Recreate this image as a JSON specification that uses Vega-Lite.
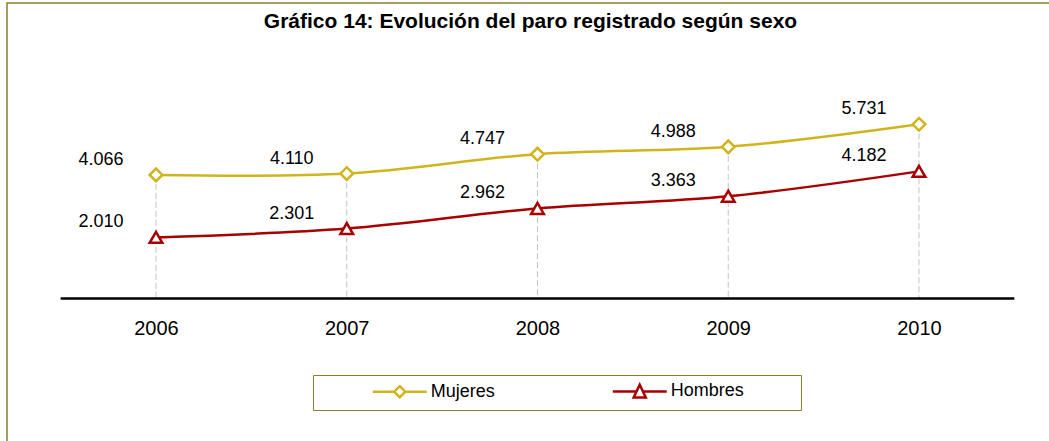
{
  "$schema": "https://vega.github.io/schema/vega-lite/v6.json",
  "width": 1047,
  "height": 443,
  "autosize": {"type": "none"},
  "padding": {"left": 7, "top": 3, "right": 0, "bottom": 0},
  "background": "white",
  "title": {
    "text": "Gráfico 14: Evolución del paro registrado según sexo",
    "font": "Liberation Sans",
    "fontSize": 21,
    "fontWeight": "bold",
    "color": "#000000",
    "anchor": "middle",
    "offset": -18,
    "dy": 22,
    "baseline": "middle"
  },
  "config": {
    "view": {"stroke": "#8B7D2B", "strokeWidth": 1.5},
    "locale": {"number": {"decimal": ",", "thousands": ".", "grouping": [3], "currency": ["", " €"]}},
    "font": "Liberation Sans",
    "legend": {
      "orient": "none",
      "legendX": 306,
      "legendY": 372,
      "direction": "horizontal",
      "columns": 2,
      "titleOrient": "left",
      "titlePadding": 50.5,
      "titleFontSize": 18,
      "padding": 7,
      "strokeColor": "#8B7D2B",
      "fillColor": "white",
      "labelFontSize": 18,
      "labelFont": "Liberation Sans",
      "labelColor": "#000000",
      "columnPadding": 112,
      "symbolSize": 182,
      "symbolStrokeWidth": 2.5,
      "symbolOffset": 20.25,
      "labelOffset": 22,
      "symbolOpacity": 1,
      "symbolFillColor": "white"
    }
  },
  "data": {
    "values": [
      {"anio": 2006, "sexo": "Mujeres", "valor": 4066},
      {"anio": 2007, "sexo": "Mujeres", "valor": 4110},
      {"anio": 2008, "sexo": "Mujeres", "valor": 4747},
      {"anio": 2009, "sexo": "Mujeres", "valor": 4988},
      {"anio": 2010, "sexo": "Mujeres", "valor": 5731},
      {"anio": 2006, "sexo": "Hombres", "valor": 2010},
      {"anio": 2007, "sexo": "Hombres", "valor": 2301},
      {"anio": 2008, "sexo": "Hombres", "valor": 2962},
      {"anio": 2009, "sexo": "Hombres", "valor": 3363},
      {"anio": 2010, "sexo": "Hombres", "valor": 4182}
    ]
  },
  "layer": [
    {
      "transform": [{"filter": "datum.sexo === 'Mujeres'"}],
      "mark": {"type": "rule", "color": "#C4C4C4", "strokeDash": [6, 3], "strokeWidth": 1},
      "encoding": {
        "x": {
          "field": "anio",
          "type": "quantitative",
          "scale": {"domain": [2005.2189, 2010.7078], "nice": false, "zero": false},
          "axis": {
            "values": [2006, 2007, 2008, 2009, 2010],
            "format": "d",
            "domain": false,
            "ticks": false,
            "tickSize": 0,
            "grid": false,
            "labelFontSize": 20,
            "labelFont": "Liberation Sans",
            "labelColor": "#000000",
            "labelPadding": 20,
            "labelFlush": false,
            "labelOverlap": false,
            "offset": -147.5,
            "title": null
          }
        },
        "y": {
          "field": "valor",
          "type": "quantitative",
          "scale": {"domain": [-4852, 9720.4], "nice": false, "zero": false},
          "axis": null
        },
        "y2": {"datum": 0}
      }
    },
    {
      "data": {"values": [{}]},
      "mark": {"type": "rule", "color": "#000000", "strokeWidth": 2.5},
      "encoding": {
        "x": {"datum": 2005.5, "type": "quantitative"},
        "x2": {"datum": 2010.5},
        "y": {"datum": 0, "type": "quantitative"}
      }
    },
    {
      "mark": {"type": "line", "interpolate": "cardinal", "strokeWidth": 2.5},
      "encoding": {
        "x": {"field": "anio", "type": "quantitative"},
        "y": {"field": "valor", "type": "quantitative"},
        "color": {
          "field": "sexo",
          "type": "nominal",
          "scale": {"domain": ["Mujeres", "Hombres"], "range": ["#D0B41C", "#A80000"]},
          "legend": {"title": " "}
        }
      }
    },
    {
      "mark": {"type": "point", "filled": false, "opacity": 0},
      "encoding": {
        "x": {"field": "anio", "type": "quantitative"},
        "y": {"field": "valor", "type": "quantitative"},
        "color": {"field": "sexo", "type": "nominal"},
        "shape": {
          "field": "sexo",
          "type": "nominal",
          "scale": {
            "domain": ["Mujeres", "Hombres"],
            "range": [
              "M-4,0L-0.82,0M0.82,0L4,0M0,-0.82L0.82,0L0,0.82L-0.82,0Z",
              "M-4,0L-0.47,0M0.47,0L4,0M0,-1L0.9,0.9L-0.9,0.9ZM22,0"
            ]
          },
          "legend": {"title": " "}
        }
      }
    },
    {
      "transform": [{"filter": "datum.sexo === 'Mujeres'"}],
      "mark": {"type": "point", "shape": "diamond", "filled": false, "fill": "white", "fillOpacity": 1, "opacity": 1, "strokeWidth": 2.5, "size": 160},
      "encoding": {
        "x": {"field": "anio", "type": "quantitative"},
        "y": {"field": "valor", "type": "quantitative"},
        "color": {"field": "sexo", "type": "nominal"}
      }
    },
    {
      "transform": [{"filter": "datum.sexo === 'Hombres'"}],
      "mark": {"type": "point", "shape": "triangle-up", "filled": false, "fill": "white", "fillOpacity": 1, "opacity": 1, "strokeWidth": 2.5, "size": 160},
      "encoding": {
        "x": {"field": "anio", "type": "quantitative"},
        "y": {"field": "valor", "type": "quantitative"},
        "color": {"field": "sexo", "type": "nominal"}
      }
    },
    {
      "mark": {"type": "text", "dx": -55, "dy": -15, "fontSize": 18, "font": "Liberation Sans", "color": "#000000", "baseline": "middle"},
      "encoding": {
        "x": {"field": "anio", "type": "quantitative"},
        "y": {"field": "valor", "type": "quantitative"},
        "text": {"field": "valor", "type": "quantitative", "format": ",d"}
      }
    }
  ]
}
